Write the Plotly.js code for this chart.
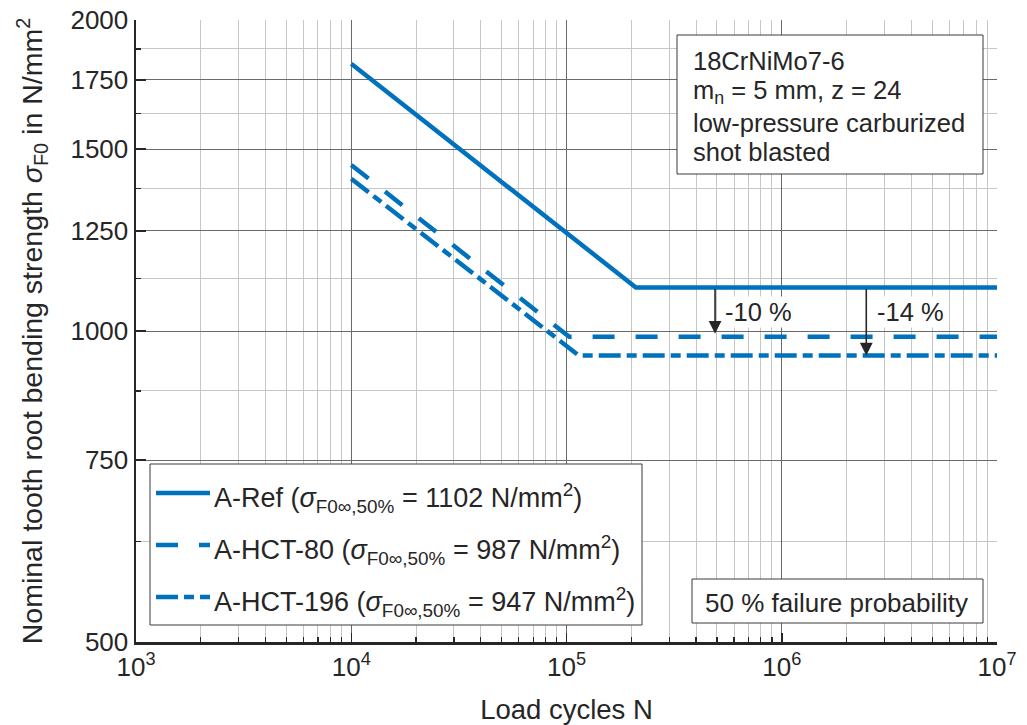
<!DOCTYPE html>
<html>
<head>
<meta charset="utf-8">
<script src="https://cdn.plot.ly/plotly-3.0.1.min.js"></script>
<style>html,body{margin:0;padding:0;background:#fff;}</style>
</head>
<body>
<div id="chart" style="width:1027px;height:725px;"></div>
<script>
// Wöhler (S-N) curves: nominal tooth root bending strength over load cycles
const seriesNames = ['A-Ref', 'A-HCT-80', 'A-HCT-196'];
const enduranceLimits = [1102, 987, 947];

const refCycles = [1e4, 2.1e5, 1e7];
const refStrength = [1814, 1102, 1102];
const hct80Cycles = [1e4, 1.03e5, 1e7];
const hct80Strength = [1448, 987, 987];
const hct196Cycles = [1e4, 1.14e5, 1e7];
const hct196Strength = [1404, 947, 947];

const xTickVals = [1e3, 1e4, 1e5, 1e6, 1e7];
const xTickText = ['10<sup>3</sup>', '10<sup>4</sup>', '10<sup>5</sup>', '10<sup>6</sup>', '10<sup>7</sup>'];
const yTickVals = [500, 750, 1000, 1250, 1500, 1750, 2000];
const yMinorVals = [625, 875, 1125, 1375, 1625, 1875];

const reductionLabels = ['-10 %', '-14 %'];
const reductionArrowCycles = [4.9e5, 2.47e6];
const reductionLabelCycles = [5.33e5, 2.71e6];
const reductionLabelLevel = 1043;

const infoLines = ['18CrNiMo7-6', 'm<sub>n</sub> = 5 mm, z = 24', 'low-pressure carburized', 'shot blasted'];
const probabilityLabel = '50 % failure probability';

// ---- styling ----
const BLUE = '#0072BD';
const INK = '#262626';
const FONT = 'Liberation Sans, Arial, Helvetica, sans-serif';
const LINE_W = 4.5;
const dashes = ['solid', '22px,21px', '22px,6px,10px,6px'];

// plot area in pixels (for paper-coordinate helpers)
const W = 1027, H = 725;
const M = {l: 136, r: 30, t: 20, b: 83};
const PW = W - M.l - M.r, PH = H - M.t - M.b;
const px = x => (x - M.l) / PW;
const py = y => (H - M.b - y) / PH;

// minor ticks 2..9 within each decade
const xMinorVals = [];
for (let d = 3; d < 7; d++) for (let k = 2; k <= 9; k++) xMinorVals.push(k * Math.pow(10, d));

const seriesX = [refCycles, hct80Cycles, hct196Cycles];
const seriesY = [refStrength, hct80Strength, hct196Strength];

const traces = seriesNames.map((name, i) => ({
  type: 'scatter', mode: 'lines', name: name,
  x: seriesX[i], y: seriesY[i],
  line: {color: BLUE, width: LINE_W, dash: dashes[i]},
  showlegend: false, hoverinfo: 'skip'
}));

const shapes = [];
const annotations = [];

// info box (top right)
shapes.push({type: 'rect', xref: 'paper', yref: 'paper',
  x0: px(677), x1: px(983), y0: py(174), y1: py(35),
  fillcolor: '#ffffff', line: {color: '#3a3a3a', width: 1}, layer: 'above'});
const infoY = [61, 92, 123, 152];
infoLines.forEach((t, i) => annotations.push({
  xref: 'paper', yref: 'paper', x: px(691), y: py(infoY[i]),
  xanchor: 'left', yanchor: 'middle', showarrow: false, text: t,
  font: {family: FONT, size: 25.5, color: INK}
}));

// probability box (bottom right)
shapes.push({type: 'rect', xref: 'paper', yref: 'paper',
  x0: px(692), x1: px(983), y0: py(623), y1: py(579),
  fillcolor: '#ffffff', line: {color: '#3a3a3a', width: 1}, layer: 'above'});
annotations.push({xref: 'paper', yref: 'paper', x: px(836), y: py(603),
  xanchor: 'center', yanchor: 'middle', showarrow: false, text: probabilityLabel,
  font: {family: FONT, size: 26, color: INK}});

// legend box with line samples
shapes.push({type: 'rect', xref: 'paper', yref: 'paper',
  x0: px(150), x1: px(642), y0: py(625), y1: py(464),
  fillcolor: '#ffffff', line: {color: '#3a3a3a', width: 1}, layer: 'above'});
const legendRows = [493, 545, 597];
seriesNames.forEach((name, i) => {
  shapes.push({type: 'line', xref: 'paper', yref: 'paper',
    x0: px(156), x1: px(210), y0: py(legendRows[i]), y1: py(legendRows[i]),
    line: {color: BLUE, width: LINE_W, dash: dashes[i]}, layer: 'above'});
  annotations.push({xref: 'paper', yref: 'paper', x: px(212), y: py(legendRows[i] + 5),
    xanchor: 'left', yanchor: 'middle', showarrow: false,
    text: name + ' (<i>σ</i><sub>F0∞,50%</sub> = ' + enduranceLimits[i] + ' N/mm<sup>2</sup>)',
    font: {family: FONT, size: 27, color: INK}});
});

// reduction arrows from the reference endurance limit down to each variant
reductionLabels.forEach((lab, i) => {
  const xa = Math.log10(reductionArrowCycles[i]);
  annotations.push({xref: 'x', yref: 'y', axref: 'x', ayref: 'y',
    x: xa, y: Math.log10(enduranceLimits[i + 1]),
    ax: xa, ay: Math.log10(enduranceLimits[0]),
    text: '', showarrow: true, arrowhead: 2, arrowsize: 1.6, arrowwidth: 1.6,
    arrowcolor: INK, standoff: i === 0 ? 3 : 0});
  annotations.push({xref: 'x', yref: 'y',
    x: Math.log10(reductionLabelCycles[i]), y: Math.log10(reductionLabelLevel),
    xanchor: 'left', yanchor: 'middle', showarrow: false, text: lab,
    bgcolor: '#ffffff', borderpad: 1,
    font: {family: FONT, size: 25.5, color: INK}});
});

const layout = {
  width: W, height: H,
  margin: M,
  paper_bgcolor: '#ffffff', plot_bgcolor: '#ffffff',
  font: {family: FONT, color: INK},
  showlegend: false,
  hovermode: false,
  xaxis: {
    type: 'log', range: [3, 7],
    tickmode: 'array', tickvals: xTickVals, ticktext: xTickText,
    tickfont: {family: FONT, size: 26, color: INK},
    ticks: 'inside', ticklen: 9, tickwidth: 1.5, tickcolor: INK,
    showline: true, linecolor: INK, linewidth: 2.5, mirror: false,
    showgrid: true, gridcolor: '#6a6a6a', gridwidth: 1,
    zeroline: false,
    minor: {tickmode: 'array', tickvals: xMinorVals, ticks: 'inside', ticklen: 5,
      tickwidth: 1.2, tickcolor: INK, showgrid: true, gridcolor: '#c6c6c6', gridwidth: 1},
    title: {text: 'Load cycles N', font: {family: FONT, size: 27.5, color: INK}, standoff: 20}
  },
  yaxis: {
    type: 'log', range: [Math.log10(500), Math.log10(2000)],
    tickmode: 'array', tickvals: yTickVals, ticktext: yTickVals.map(String),
    tickfont: {family: FONT, size: 26, color: INK},
    ticks: 'inside', ticklen: 10, tickwidth: 1.5, tickcolor: INK,
    showline: true, linecolor: INK, linewidth: 2.5, mirror: false,
    showgrid: true, gridcolor: '#6a6a6a', gridwidth: 1,
    zeroline: false,
    minor: {tickmode: 'array', tickvals: yMinorVals, ticks: 'inside', ticklen: 5,
      tickwidth: 1.2, tickcolor: INK, showgrid: true, gridcolor: '#c6c6c6', gridwidth: 1},
    title: {text: 'Nominal tooth root bending strength <i>σ</i><sub>F0</sub> in N/mm<sup>2</sup>',
      font: {family: FONT, size: 28.5, color: INK}, standoff: 20}
  },
  shapes: shapes,
  annotations: annotations
};

Plotly.newPlot('chart', traces, layout, {displayModeBar: false, staticPlot: true});
</script>
</body>
</html>
